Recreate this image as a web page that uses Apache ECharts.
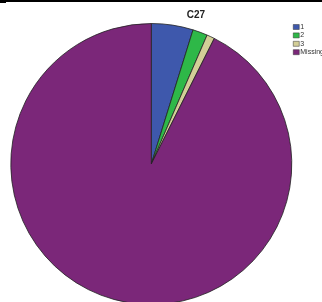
<!DOCTYPE html>
<html>
<head>
<meta charset="utf-8">
<script src="https://cdn.jsdelivr.net/npm/echarts@6/dist/echarts.min.js"></script>
<style>
  html, body { margin: 0; padding: 0; background: #fff; }
  #chart { width: 322px; height: 302px; }
</style>
</head>
<body>
<div id="chart"></div>
<script>
const categories = ['1', '2', '3', 'Missing'];
const values = [4.8, 1.7, 0.9, 92.6];
const colors = ['#3E58AC', '#2EB848', '#D3CE97', '#7B2779'];

const chart = echarts.init(document.getElementById('chart'));

const seriesData = categories.map((name, i) => ({
  name: name,
  value: values[i],
  itemStyle: { color: colors[i] }
}));

const option = {
  animation: false,
  title: {
    text: 'C27',
    left: 196,
    top: 10,
    padding: 0,
    textAlign: 'center',
    textStyle: {
      fontFamily: 'Liberation Sans, Arial',
      fontSize: 10,
      fontWeight: 'bold',
      color: '#222'
    }
  },
  legend: {
    orient: 'vertical',
    left: 293,
    top: 23,
    padding: 0,
    itemWidth: 6,
    itemHeight: 5,
    itemGap: 0.4,
    icon: 'rect',
    itemStyle: { borderColor: '#333', borderWidth: 0.5 },
    data: categories,
    textStyle: {
      fontFamily: 'Liberation Sans, Arial',
      fontSize: 7,
      lineHeight: 8,
      color: '#333',
      padding: [0, 0, 0, -4]
    }
  },
  graphic: [
    { type: 'rect', shape: { x: 0, y: 0, width: 322, height: 2 }, style: { fill: '#000' } },
    { type: 'rect', shape: { x: 0, y: 2, width: 6, height: 1 }, style: { fill: '#000' } }
  ],
  series: [
    {
      type: 'pie',
      center: [151.3, 164],
      radius: [0, 140.5],
      startAngle: 90,
      clockwise: true,
      data: seriesData,
      label: { show: false },
      labelLine: { show: false },
      itemStyle: { borderColor: '#222', borderWidth: 0.8 },
      emphasis: { disabled: true }
    }
  ]
};

chart.setOption(option);
</script>
</body>
</html>
